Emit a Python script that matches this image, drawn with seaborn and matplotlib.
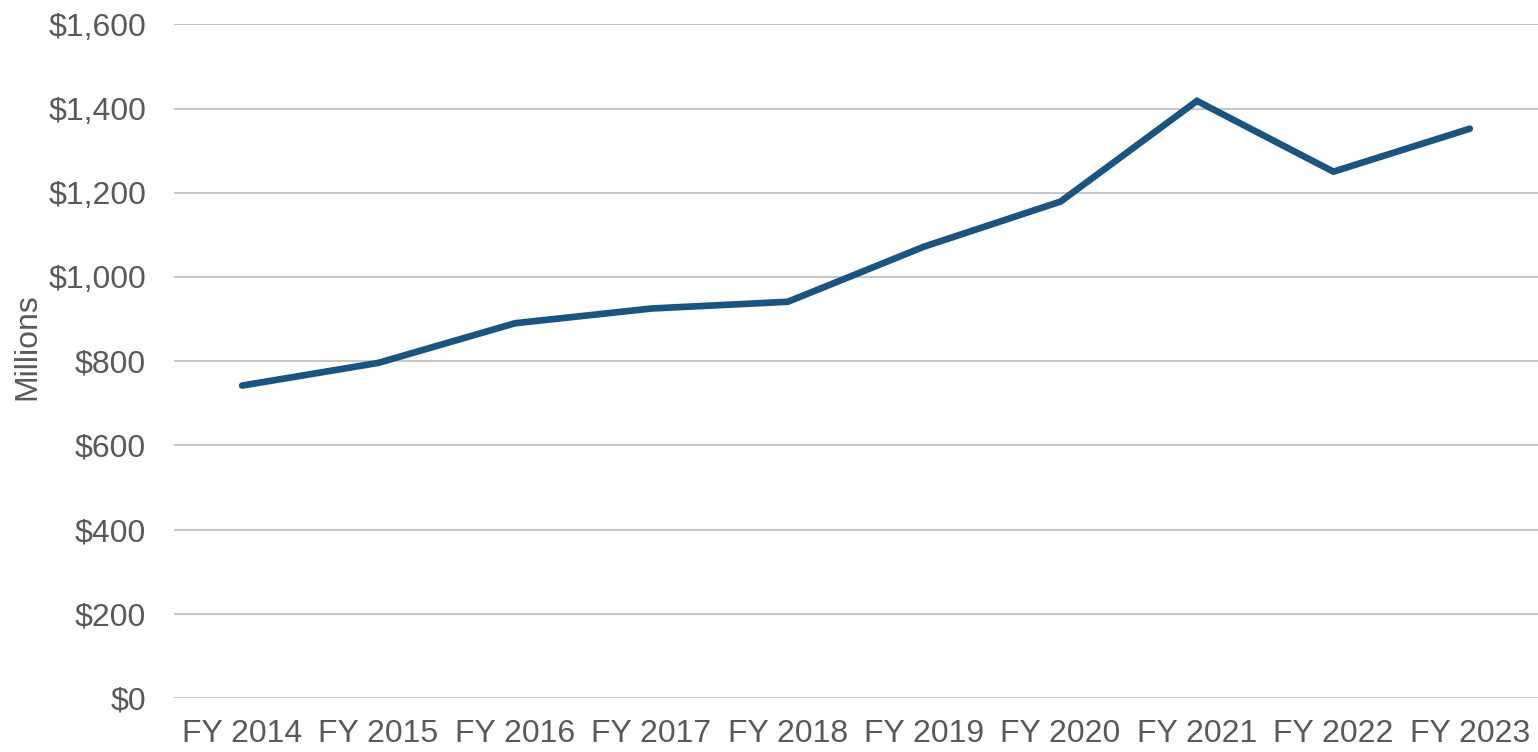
import matplotlib
matplotlib.use("Agg")
import matplotlib.pyplot as plt
import seaborn as sns
import pandas as pd
from matplotlib.ticker import FuncFormatter, MultipleLocator

# Annual spending, in millions of dollars
fiscal_years = ["FY 2014", "FY 2015", "FY 2016", "FY 2017", "FY 2018",
                "FY 2019", "FY 2020", "FY 2021", "FY 2022", "FY 2023"]
spending_millions = [742, 796, 890, 925, 941, 1072, 1179, 1418, 1250, 1352]

df = pd.DataFrame({"year": fiscal_years, "spending": spending_millions})

sns.set_theme(style="white")
plt.rcParams["font.family"] = ["Liberation Sans", "DejaVu Sans"]

text_color = "#595959"
line_color = "#1a5480"

fig = plt.figure(figsize=(15.38, 7.52), dpi=100)
ax = fig.add_axes([0.1131, 0.0718, 0.8869, 0.8959])

sns.lineplot(data=df, x="year", y="spending", sort=False, ax=ax,
             color=line_color, linewidth=4.8,
             solid_capstyle="round", solid_joinstyle="miter")

ax.set_ylim(0, 1600)
ax.set_xlim(-0.5, len(fiscal_years) - 0.5)
ax.yaxis.set_major_locator(MultipleLocator(200))
ax.yaxis.set_major_formatter(FuncFormatter(lambda v, _: f"${v:,.0f}"))

ax.grid(axis="y", color="#c8c8c8", linewidth=1.5)
ax.grid(axis="x", visible=False)
ax.set_axisbelow(True)
for side in ["top", "right", "left", "bottom"]:
    ax.spines[side].set_visible(False)

ax.tick_params(axis="y", length=0, pad=20, labelsize=23, labelcolor=text_color)
ax.tick_params(axis="x", length=0, pad=15, labelsize=23, labelcolor=text_color)

ax.set_xlabel("")
ax.set_ylabel("Millions", fontsize=23, color=text_color)
ax.yaxis.set_label_coords(-0.0967, 0.522)

fig.savefig("out.png", dpi=100)
